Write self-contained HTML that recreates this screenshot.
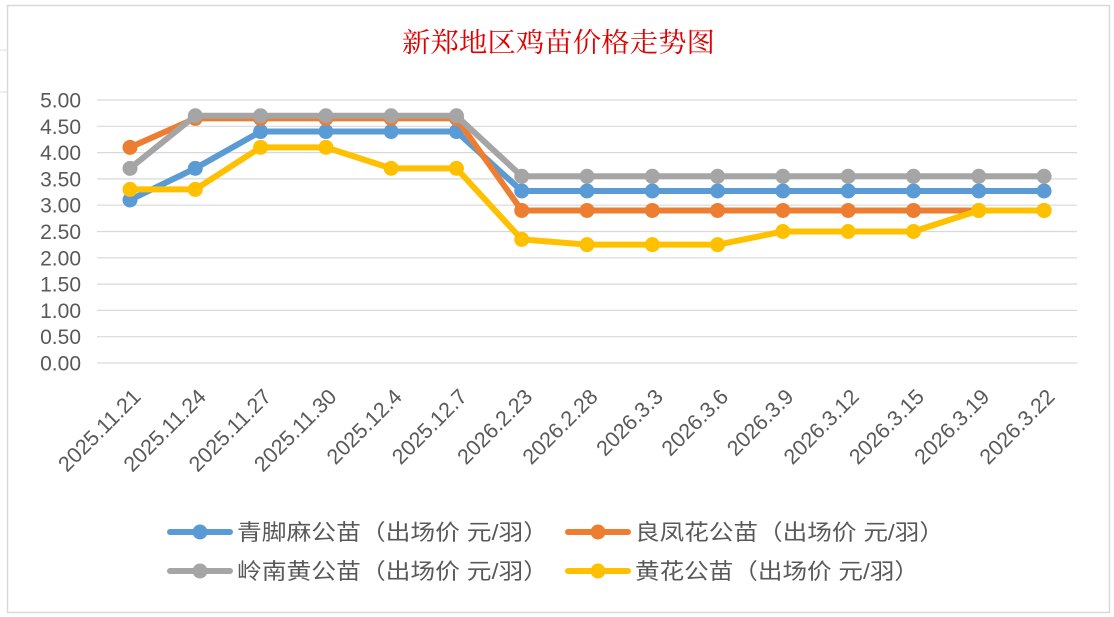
<!DOCTYPE html>
<html><head><meta charset="utf-8"><style>
html,body{margin:0;padding:0;background:#fff;}
svg{display:block;font-family:"Liberation Sans","Noto Sans CJK SC",sans-serif;}
</style></head><body>
<svg id="s" width="1114" height="617" viewBox="0 0 1114 617" xmlns="http://www.w3.org/2000/svg">
<line x1="0" y1="50" x2="8" y2="50" stroke="#ddd"/>
<line x1="0" y1="92" x2="8" y2="92" stroke="#ddd"/>
<rect x="7.5" y="5.5" width="1102" height="607" fill="#fff" stroke="#d9d9d9" stroke-width="1.5"/>
<text x="402" y="52" textLength="313" lengthAdjust="spacingAndGlyphs" font-size="27" fill="#e00000" font-family="'Noto Serif CJK SC',serif">新郑地区鸡苗价格走势图</text>
<g id="g"></g>
</svg>
<script>
var g=document.getElementById('g'),h='';
function Y(v){return 363-v*52.6;}
function X(i){return 130+i*65.29;}
for(var k=0;k<=10;k++){var y=Y(k*0.5);h+='<line x1="97" x2="1077" y1="'+y+'" y2="'+y+'" stroke="#d9d9d9" stroke-width="1.2"/>';
h+='<text x="81" y="'+(y+7.5)+'" text-anchor="end" font-size="21" fill="#595959">'+(k*0.5).toFixed(2)+'</text>';}
var L=['2025.11.21','2025.11.24','2025.11.27','2025.11.30','2025.12.4','2025.12.7','2026.2.23','2026.2.28','2026.3.3','2026.3.6','2026.3.9','2026.3.12','2026.3.15','2026.3.19','2026.3.22'];
L.forEach(function(t,i){var x=X(i)+12,y=398;h+='<text transform="translate('+x+','+y+') rotate(-45)" text-anchor="end" font-size="21.5" fill="#595959">'+t+'</text>';});
var S=[
['#5b9bd5',[3.1,3.7,4.4,4.4,4.4,4.4,3.27,3.27,3.27,3.27,3.27,3.27,3.27,3.27,3.27]],
['#ed7d31',[4.1,4.65,4.65,4.65,4.65,4.65,2.9,2.9,2.9,2.9,2.9,2.9,2.9,2.9,2.9]],
['#a5a5a5',[3.7,4.7,4.7,4.7,4.7,4.7,3.55,3.55,3.55,3.55,3.55,3.55,3.55,3.55,3.55]],
['#ffc000',[3.3,3.3,4.1,4.1,3.7,3.7,2.35,2.25,2.25,2.25,2.5,2.5,2.5,2.9,2.9]]];
S.forEach(function(s){var p=s[1].map(function(v,i){return X(i)+','+Y(v);}).join(' ');
h+='<polyline points="'+p+'" fill="none" stroke="'+s[0]+'" stroke-width="6" stroke-linejoin="round"/>';
s[1].forEach(function(v,i){h+='<circle cx="'+X(i)+'" cy="'+Y(v)+'" r="7.5" fill="'+s[0]+'"/>';});});
var LG=[['#5b9bd5','青脚麻公苗（出场价 元/羽）',170,532,311],['#ed7d31','良凤花公苗（出场价 元/羽）',568,532,309],['#a5a5a5','岭南黄公苗（出场价 元/羽）',170,571,311],['#ffc000','黄花公苗（出场价 元/羽）',568,571,284]];
LG.forEach(function(l){h+='<line x1="'+l[2]+'" x2="'+(l[2]+60)+'" y1="'+l[3]+'" y2="'+l[3]+'" stroke="'+l[0]+'" stroke-width="6" stroke-linecap="round"/><circle cx="'+(l[2]+30)+'" cy="'+l[3]+'" r="7.5" fill="'+l[0]+'"/><text x="'+(l[2]+67)+'" y="'+(l[3]+8)+'" font-size="22" textLength="'+l[4]+'" lengthAdjust="spacingAndGlyphs" fill="#595959">'+l[1]+'</text>';});
g.innerHTML=h;
</script>
</body></html>
